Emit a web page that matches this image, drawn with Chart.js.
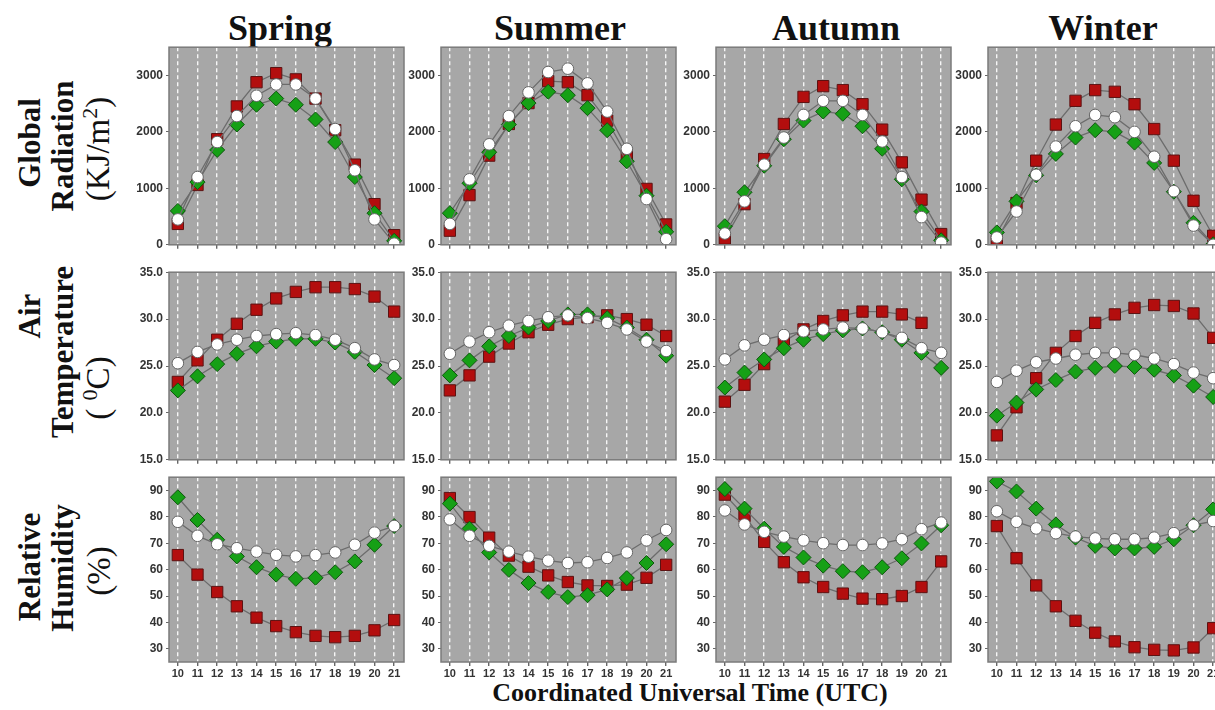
<!DOCTYPE html>
<html>
<head>
<meta charset="utf-8">
<script src="https://cdn.jsdelivr.net/npm/chart.js@4/dist/chart.umd.min.js"></script>
<style>
    body { margin: 0; background: #fff; }
    #page { position: relative; width: 1215px; height: 710px; overflow: hidden; background: #fff; }
    canvas { position: absolute; }
    .title { position: absolute; transform: translate(-50%, -50%); font: bold 36px "Liberation Serif", "Times New Roman", serif; color: #111; white-space: nowrap; }
    .rowlab { position: absolute; transform: translate(-50%, -50%) rotate(-90deg); font: bold 31px "Liberation Serif", "Times New Roman", serif; color: #111; white-space: nowrap; }
    .rowlab.unit { font-weight: normal; font-size: 33px; }
    #xtitle { position: absolute; left: 690px; top: 693px; transform: translate(-50%, -50%); font: bold 26px "Liberation Serif", "Times New Roman", serif; color: #111; white-space: nowrap; }
</style>
</head>
<body>
<div id="page">
    <div class="title" style="left:280px;top:28px">Spring</div>
    <div class="title" style="left:560px;top:28px">Summer</div>
    <div class="title" style="left:836px;top:28px">Autumn</div>
    <div class="title" style="left:1103px;top:28px">Winter</div>

    <div class="rowlab" style="left:30px;top:143px">Global</div>
    <div class="rowlab" style="left:63px;top:146px">Radiation</div>
    <div class="rowlab unit" style="left:97px;top:149px">(KJ/m<sup style="font-size:22px">2</sup>)</div>

    <div class="rowlab" style="left:30px;top:316px">Air</div>
    <div class="rowlab" style="left:63px;top:352px">Temperature</div>
    <div class="rowlab unit" style="left:97px;top:388px">( <sup style="font-size:22px">0</sup>C)</div>

    <div class="rowlab" style="left:30px;top:567px">Relative</div>
    <div class="rowlab" style="left:63px;top:568px">Humidity</div>
    <div class="rowlab unit" style="left:99px;top:571px">(%)</div>

    <div id="xtitle">Coordinated Universal Time (UTC)</div>
</div>
<script>
// hours of the day (UTC) on the x axis
const hours = [10, 11, 12, 13, 14, 15, 16, 17, 18, 19, 20, 21];
const seasons = ['Spring', 'Summer', 'Autumn', 'Winter'];

// tick labels
const radTicks = [0, 1000, 2000, 3000];
const tempTicks = [15, 20, 25, 30, 35];
const rhTicks = [30, 40, 50, 60, 70, 80, 90];

// Global radiation (KJ/m2), one list per season: spring, summer, autumn, winter
const radSquare = [
    [370, 1060, 1870, 2450, 2880, 3040, 2930, 2590, 2030, 1420, 720, 170],
    [250, 880, 1580, 2140, 2510, 2900, 2880, 2650, 2200, 1580, 990, 360],
    [110, 720, 1520, 2140, 2620, 2810, 2740, 2490, 2040, 1460, 800, 190],
    [70, 740, 1490, 2130, 2550, 2740, 2710, 2490, 2050, 1490, 780, 160]
];
const radCircle = [
    [450, 1200, 1820, 2280, 2640, 2840, 2840, 2590, 2050, 1320, 450, 20],
    [370, 1160, 1780, 2280, 2700, 3060, 3120, 2860, 2360, 1700, 810, 100],
    [200, 770, 1420, 1900, 2300, 2550, 2550, 2300, 1830, 1200, 490, 40],
    [130, 590, 1240, 1740, 2100, 2300, 2260, 2000, 1560, 950, 340, 0]
];
const radDiamond = [
    [600, 1110, 1680, 2130, 2480, 2590, 2480, 2220, 1820, 1200, 560, 70],
    [560, 1090, 1640, 2130, 2510, 2710, 2650, 2420, 2030, 1480, 870, 230],
    [330, 930, 1400, 1870, 2200, 2360, 2320, 2100, 1700, 1160, 590, 80],
    [220, 770, 1230, 1610, 1900, 2030, 2000, 1810, 1450, 940, 390, 10]
];

// Air temperature (0C)
const tempSquare = [
    [23.3, 25.6, 27.8, 29.5, 31.0, 32.2, 32.9, 33.4, 33.4, 33.2, 32.4, 30.8],
    [22.4, 24.0, 26.0, 27.4, 28.6, 29.4, 30.0, 30.2, 30.4, 30.0, 29.4, 28.2],
    [21.2, 23.0, 25.2, 27.6, 28.9, 29.8, 30.4, 30.8, 30.8, 30.5, 29.6, null],
    [17.6, 20.6, 23.7, 26.4, 28.2, 29.6, 30.5, 31.2, 31.5, 31.4, 30.6, 28.0]
];
const tempCircle = [
    [25.3, 26.5, 27.3, 27.8, 28.2, 28.4, 28.5, 28.3, 27.8, 26.9, 25.7, 25.1],
    [26.3, 27.6, 28.6, 29.3, 29.8, 30.2, 30.4, 30.1, 29.6, 28.9, 27.6, 26.6],
    [25.7, 27.2, 27.8, 28.3, 28.7, 28.9, 29.1, 29.0, 28.6, 28.0, 26.9, 26.4],
    [23.3, 24.5, 25.4, 25.8, 26.2, 26.4, 26.4, 26.2, 25.8, 25.2, 24.3, 23.7]
];
const tempDiamond = [
    [22.4, 23.9, 25.2, 26.3, 27.1, 27.6, 27.9, 27.9, 27.5, 26.5, 25.1, 23.7],
    [24.0, 25.6, 27.1, 28.2, 29.1, 29.8, 30.5, 30.5, 30.1, 29.1, 27.8, 26.1],
    [22.7, 24.3, 25.7, 26.9, 27.8, 28.4, 28.8, 29.0, 28.6, 27.8, 26.4, 24.8],
    [19.7, 21.1, 22.5, 23.5, 24.4, 24.8, 25.0, 24.9, 24.6, 24.0, 22.9, 21.7]
];

// Relative humidity (%)
const rhSquare = [
    [65.5, 58.1, 51.5, 46.1, 41.8, 38.6, 36.3, 34.9, 34.4, 34.9, 37.0, 40.9],
    [87.1, 79.9, 72.1, 65.3, 61.1, 57.8, 55.3, 54.0, 53.8, 54.3, 56.9, 61.8],
    [88.4, 80.3, 70.5, 62.8, 57.1, 53.4, 50.9, 49.0, 48.8, 50.0, 53.4, 63.1],
    [76.5, 64.3, 54.0, 46.1, 40.6, 36.1, 32.8, 30.6, 29.6, 29.4, 30.5, 37.8]
];
const rhCircle = [
    [78.1, 72.8, 69.6, 68.1, 66.8, 65.6, 65.0, 65.5, 66.5, 69.4, 74.0, 76.5],
    [79.0, 72.8, 69.0, 66.8, 64.9, 63.4, 62.5, 62.8, 64.4, 66.5, 71.1, 75.0],
    [82.4, 77.1, 74.3, 72.5, 71.1, 70.0, 69.3, 69.3, 69.9, 71.5, 75.3, 77.8],
    [82.1, 78.1, 75.6, 73.8, 72.5, 71.8, 71.5, 71.5, 72.1, 73.8, 76.8, 78.4]
];
const rhDiamond = [
    [87.4, 78.8, 71.3, 65.0, 60.9, 58.1, 56.5, 56.9, 59.0, 63.1, 69.4, 76.5],
    [85.0, 75.5, 66.5, 59.9, 54.9, 51.5, 49.6, 50.3, 52.5, 56.8, 62.5, 69.6],
    [90.5, 83.1, 75.5, 68.6, 64.6, 61.5, 59.4, 59.0, 60.9, 64.3, 69.9, 76.8],
    [93.4, 89.6, 83.1, 77.1, 72.1, 69.0, 68.0, 68.0, 68.6, 71.5, 76.8, 82.8]
];

// panel layout
const colLeft = [169, 441, 716, 988];
const plotW = 235;
const yAxisW = 48;
const padTop = 10;
const padRight = 6;

const rows = [
    { top: 47, height: 202, min: 0, max: 3500, ticks: radTicks, fmt: v => String(v),
      square: radSquare, circle: radCircle, diamond: radDiamond, xLabels: false },
    { top: 272, height: 192, min: 15, max: 35, ticks: tempTicks, fmt: v => v.toFixed(1),
      square: tempSquare, circle: tempCircle, diamond: tempDiamond, xLabels: false },
    { top: 477, height: 185, min: 25, max: 95, ticks: rhTicks, fmt: v => String(v),
      square: rhSquare, circle: rhCircle, diamond: rhDiamond, xLabels: true }
];

const panelFrame = {
    id: 'panelFrame',
    beforeDraw(chart) {
        const a = chart.chartArea;
        const ctx = chart.ctx;
        ctx.save();
        ctx.fillStyle = '#a7a7a7';
        ctx.fillRect(a.left, a.top, a.right - a.left, a.bottom - a.top);
        ctx.restore();
    },
    afterDraw(chart) {
        const a = chart.chartArea;
        const ctx = chart.ctx;
        ctx.save();
        ctx.strokeStyle = '#7b7b7b';
        ctx.lineWidth = 1.5;
        ctx.strokeRect(a.left, a.top, a.right - a.left, a.bottom - a.top);
        ctx.restore();
    }
};

function toPoints(values) {
    return hours.map((h, i) => ({ x: h, y: values[i] }));
}

function makePanel(row, col) {
    const r = rows[row];
    const xH = r.xLabels ? 22 : 6;
    const canvas = document.createElement('canvas');
    const w = yAxisW + plotW + padRight;
    const h = padTop + r.height + xH;
    canvas.width = w;
    canvas.height = h;
    canvas.style.width = w + 'px';
    canvas.style.height = h + 'px';
    canvas.style.left = (colLeft[col] - yAxisW) + 'px';
    canvas.style.top = (r.top - padTop) + 'px';
    document.getElementById('page').appendChild(canvas);

    const lineColor = '#6c6c6c';
    new Chart(canvas.getContext('2d'), {
        type: 'line',
        data: {
            datasets: [
                {
                    label: 'Series A',
                    data: toPoints(r.square[col]),
                    borderColor: lineColor,
                    borderWidth: 1.3,
                    pointStyle: 'rect',
                    pointRadius: 8,
                    pointBackgroundColor: '#b30e0e',
                    pointBorderColor: '#5c1212',
                    pointBorderWidth: 1,
                    order: 3
                },
                {
                    label: 'Series B',
                    data: toPoints(r.diamond[col]),
                    borderColor: lineColor,
                    borderWidth: 1.3,
                    pointStyle: 'rectRot',
                    pointRadius: 7.5,
                    pointBackgroundColor: '#16a016',
                    pointBorderColor: '#0d560d',
                    pointBorderWidth: 1,
                    order: 2
                },
                {
                    label: 'Series C',
                    data: toPoints(r.circle[col]),
                    borderColor: lineColor,
                    borderWidth: 1.3,
                    pointStyle: 'circle',
                    pointRadius: 5.8,
                    pointBackgroundColor: '#ffffff',
                    pointBorderColor: '#666666',
                    pointBorderWidth: 1,
                    order: 1
                }
            ]
        },
        options: {
            responsive: false,
            animation: false,
            devicePixelRatio: 1,
            layout: { autoPadding: false, padding: { top: padTop, right: padRight, left: 0, bottom: 0 } },
            plugins: { legend: { display: false }, tooltip: { enabled: false } },
            scales: {
                x: {
                    type: 'linear',
                    min: 9.55,
                    max: 21.5,
                    afterBuildTicks: axis => { axis.ticks = hours.map(v => ({ value: v })); },
                    afterFit: axis => { axis.height = xH; },
                    grid: {
                        color: 'rgba(255,255,255,0.9)',
                        lineWidth: 1.4,
                        tickColor: '#666666',
                        tickLength: 4
                    },
                    border: { display: false, dash: [4, 3] },
                    ticks: {
                        display: r.xLabels,
                        maxRotation: 0,
                        autoSkip: false,
                        padding: 1,
                        color: '#333333',
                        font: { family: 'Liberation Sans, Arial, sans-serif', size: 11, weight: 'bold' }
                    }
                },
                y: {
                    min: r.min,
                    max: r.max,
                    afterBuildTicks: axis => { axis.ticks = r.ticks.map(v => ({ value: v })); },
                    afterFit: axis => { axis.width = yAxisW; },
                    grid: { drawOnChartArea: false, tickLength: 3, tickColor: '#666666' },
                    border: { display: false },
                    ticks: {
                        padding: 3,
                        color: '#333333',
                        font: { family: 'Liberation Sans, Arial, sans-serif', size: 12, weight: 'bold' },
                        callback: v => r.fmt(v)
                    }
                }
            }
        },
        plugins: [panelFrame]
    });
}

for (let row = 0; row < rows.length; row++) {
    for (let col = 0; col < seasons.length; col++) {
        makePanel(row, col);
    }
}
</script>
</body>
</html>
